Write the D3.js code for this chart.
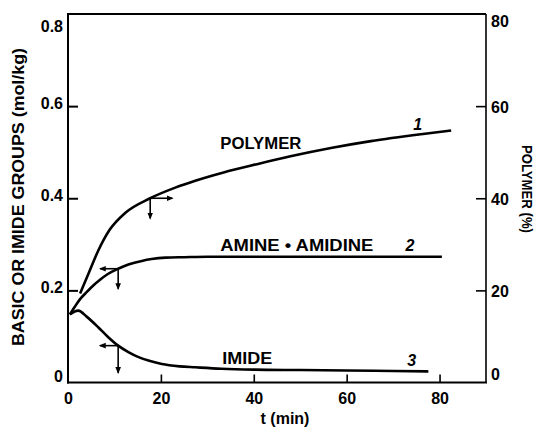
<!DOCTYPE html>
<html><head><meta charset="utf-8">
<script src="https://cdnjs.cloudflare.com/ajax/libs/d3/7.8.5/d3.min.js"></script>
<style>
html,body{margin:0;padding:0;background:#fff;}
svg text{font-family:"Liberation Sans",Arial,sans-serif;fill:#000;}
</style></head>
<body><svg id="c" width="540" height="428"></svg>
<script>
// ---- data ----
const xTicks = [0, 20, 40, 60, 80];
const leftTicks = [0, 0.2, 0.4, 0.6, 0.8];
const leftTickLabels = ["0", "0.2", "0.4", "0.6", "0.8"];
const rightTicks = [0, 20, 40, 60, 80];

// curve 1: polymer (%) vs t (min)
const polymerT = [2.6, 4.4, 6.5, 9.0, 12.3, 17.7, 23.1, 27.4, 33.5, 40.7, 47.9, 56.6, 65.2, 76, 82.5];
const polymerP = [19.3, 23.6, 28.6, 33.2, 36.8, 40.0, 42.3, 43.8, 45.6, 47.4, 49.1, 50.9, 52.4, 53.9, 54.7];
// curve 2: amine + amidine (mol/kg)
const amineT = [0.4, 1.5, 2.6, 4, 5.5, 6.9, 8.5, 10.8, 13, 15.9, 18, 21, 25, 30, 40, 60, 80.5];
const amineV = [0.148, 0.165, 0.181, 0.196, 0.211, 0.223, 0.235, 0.247, 0.256, 0.264, 0.268, 0.271, 0.272, 0.273, 0.273, 0.273, 0.273];
// curve 3: imide (mol/kg)
const imideT = [0.4, 2.2, 4, 6.5, 8.5, 10.8, 13, 15.2, 17.5, 20.2, 24, 27.4, 33, 40, 50, 60, 70, 77.6];
const imideV = [0.148, 0.156, 0.143, 0.12, 0.1, 0.08, 0.066, 0.055, 0.047, 0.040, 0.035, 0.033, 0.030, 0.028, 0.027, 0.026, 0.025, 0.024];

// arrow markers (t, value on curve, horizontal direction)
const arrowT = [17.7, 10.8, 10.8];
const arrowV = [0.40, 0.247, 0.08];
const arrowDir = ["right", "left", "left"];

const curveLabels = ["POLYMER", "AMINE \u2022 AMIDINE", "IMIDE"];
const curveNumbers = ["1", "2", "3"];

// ---- scales ----
const svg = d3.select("#c");
const X0 = 68, X1 = 486, Y0 = 382.5, Y1 = 14;
const x = d3.scaleLinear().domain([0, 90]).range([X0, X1]);
const yL = d3.scaleLinear().domain([0, 0.8]).range([Y0, Y1]);
const yR = d3.scaleLinear().domain([0, 80]).range([Y0, Y1]);

// ---- frame ----
const g = svg.append("g");
g.append("line").attr("x1", X0).attr("x2", X0).attr("y1", Y1).attr("y2", Y0 + 1).attr("stroke", "#000").attr("stroke-width", 2);
g.append("line").attr("x1", X0 - 1).attr("x2", X1 + 1).attr("y1", Y0).attr("y2", Y0).attr("stroke", "#000").attr("stroke-width", 2.2);
g.append("line").attr("x1", X0 - 1).attr("x2", X1).attr("y1", Y1).attr("y2", Y1).attr("stroke", "#000").attr("stroke-width", 2);
g.append("line").attr("x1", X1).attr("x2", X1).attr("y1", Y1).attr("y2", Y0).attr("stroke", "#000").attr("stroke-width", 1.6);

// bottom axis (inward ticks)
const xAxis = d3.axisBottom(x).tickValues(xTicks).tickSize(0).tickPadding(0).tickFormat(d3.format("d"));
const xa = svg.append("g").attr("transform", `translate(0,${Y0})`).call(xAxis);
xa.select(".domain").remove();
xa.selectAll("text").attr("y", 21).attr("dy", 0).style("font-size", "16px").style("font-weight", "bold");
xa.selectAll(".tick").filter(d => d > 0).append("line").attr("y1", 0).attr("y2", -8).attr("stroke", "#000").attr("stroke-width", 1.6);

// left axis
const yAxisL = d3.axisLeft(yL).tickValues(leftTicks).tickSize(0).tickPadding(0)
  .tickFormat((d, i) => leftTickLabels[i]);
const la = svg.append("g").attr("transform", `translate(${X0},0)`).call(yAxisL);
la.select(".domain").remove();
la.selectAll("text").attr("x", -5).attr("dy", 0)
  .attr("y", d => Math.min(Math.max(yL(d) + 2, 31), 381) - yL(d))
  .style("font-size", "16px").style("font-weight", "bold");
la.selectAll(".tick").filter(d => d > 0 && d < 0.8).append("line").attr("x1", 0).attr("x2", 10).attr("stroke", "#000").attr("stroke-width", 2);

// right axis
const yAxisR = d3.axisRight(yR).tickValues(rightTicks).tickSize(0).tickPadding(0).tickFormat(d3.format("d"));
const ra = svg.append("g").attr("transform", `translate(${X1},0)`).call(yAxisR);
ra.select(".domain").remove();
ra.selectAll("text").attr("x", 5).attr("dy", 0)
  .attr("y", d => Math.min(Math.max(yR(d) + 6, 26), 379) - yR(d))
  .style("font-size", "16px").style("font-weight", "bold");
ra.selectAll(".tick").filter(d => d > 0 && d < 80).append("line").attr("x1", 0).attr("x2", -10).attr("stroke", "#000").attr("stroke-width", 1.6);

// axis titles
svg.append("text").attr("transform", `translate(24,${197}) rotate(-90)`)
  .attr("text-anchor", "middle").style("font-size", "16px").style("font-weight", "bold")
  .attr("textLength", 298).attr("lengthAdjust", "spacingAndGlyphs")
  .text("BASIC OR IMIDE GROUPS (mol/kg)");
svg.append("text").attr("transform", `translate(522,${189}) rotate(90)`)
  .attr("text-anchor", "middle").style("font-size", "15px").style("font-weight", "bold")
  .attr("textLength", 88).attr("lengthAdjust", "spacingAndGlyphs")
  .text("POLYMER (%)");
svg.append("text").attr("x", 285).attr("y", 424).attr("text-anchor", "middle")
  .style("font-size", "16px").style("font-weight", "bold").text("t (min)");

// ---- curves ----
const lineL = d3.line().x(d => x(d[0])).y(d => yL(d[1])).curve(d3.curveMonotoneX);
const lineR = d3.line().x(d => x(d[0])).y(d => yR(d[1])).curve(d3.curveMonotoneX);
svg.append("path").attr("d", lineR(d3.zip(polymerT, polymerP))).attr("fill", "none").attr("stroke", "#000").attr("stroke-width", 2.6);
svg.append("path").attr("d", lineL(d3.zip(amineT, amineV))).attr("fill", "none").attr("stroke", "#000").attr("stroke-width", 2.6);
svg.append("path").attr("d", lineL(d3.zip(imideT, imideV))).attr("fill", "none").attr("stroke", "#000").attr("stroke-width", 2.6);

// ---- arrows ----
svg.append("defs").append("marker").attr("id", "ah").attr("viewBox", "0 0 10 10")
  .attr("refX", 8).attr("refY", 5).attr("markerWidth", 7).attr("markerHeight", 7)
  .attr("markerUnits", "userSpaceOnUse").attr("orient", "auto")
  .append("path").attr("d", "M0,1 L10,5 L0,9 Z").attr("fill", "#000");
arrowT.forEach((t, i) => {
  const px = x(t), py = yL(arrowV[i]);
  const hx = arrowDir[i] === "right" ? px + 22 : px - 18;
  svg.append("line").attr("x1", px).attr("y1", py).attr("x2", hx).attr("y2", py)
    .attr("stroke", "#000").attr("stroke-width", 1.6).attr("marker-end", "url(#ah)");
  svg.append("line").attr("x1", px).attr("y1", py).attr("x2", px).attr("y2", py + (i === 2 ? 27 : 20))
    .attr("stroke", "#000").attr("stroke-width", 1.6).attr("marker-end", "url(#ah)");
});

// ---- curve labels ----
const labT = [32.8, 32.8, 33.2];
const labV = [0.508, 0.285, 0.04];
const labW = [81, 153, 50];
curveLabels.forEach((s, i) => {
  svg.append("text").attr("x", x(labT[i])).attr("y", yL(labV[i]))
    .style("font-size", "16px").style("font-weight", "bold")
    .attr("textLength", labW[i]).attr("lengthAdjust", "spacingAndGlyphs").text(s);
});
const numT = [75.3, 73.6, 74.0];
const numV = [0.548, 0.286, 0.035];
curveNumbers.forEach((s, i) => {
  svg.append("text").attr("x", x(numT[i])).attr("y", yL(numV[i])).attr("text-anchor", "middle")
    .style("font-size", "16px").style("font-style", "italic").style("font-weight", "bold").text(s);
});
</script></body></html>
